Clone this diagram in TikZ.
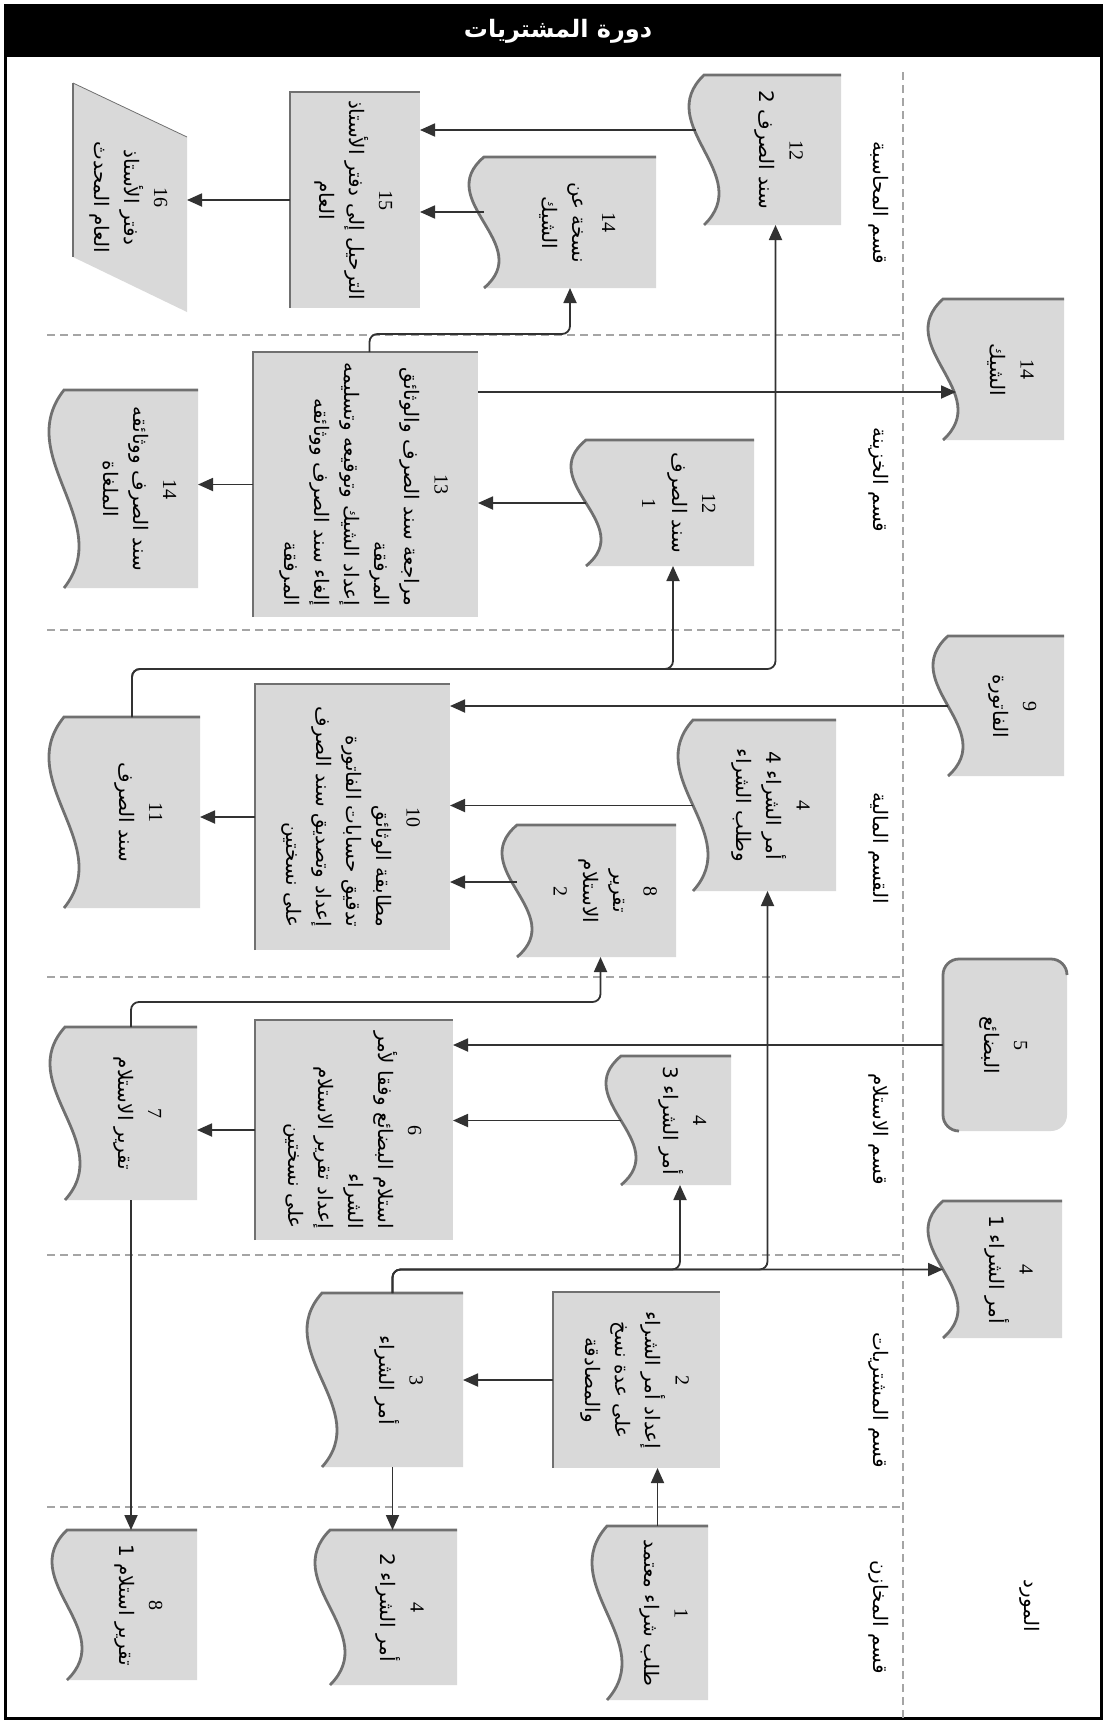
\documentclass[tikz,border=0pt]{standalone}
\usepackage{fontspec}
\usepackage{graphicx}
\usetikzlibrary{arrows.meta,calc,fit,backgrounds}
\setmainfont{Liberation Serif}
\newfontfamily\arabicfont[Script=Arabic]{DejaVu Sans}
\TeXXeTstate=1

\definecolor{boxgray}{RGB}{217,217,217}
\definecolor{edgegray}{RGB}{112,112,112}
\definecolor{linegray}{RGB}{50,50,50}
\definecolor{lanegray}{RGB}{165,165,165}

% Arabic text, numbers and rotated text blocks
\newcommand\artext[1]{{\arabicfont\beginR #1\endR}}
\newcommand\numtxt[1]{{\rmfamily #1}}
\newcommand\ctrcell[1]{\multicolumn{1}{@{}c@{}}{#1}}
\newcommand\rotc[1]{\rotatebox{-90}{\begin{tabular}{@{}c@{}}#1\end{tabular}}}
\newcommand\rotr[1]{\rotatebox{-90}{\begin{tabular}{@{}r@{}}#1\end{tabular}}}
\newcommand\rotdoc[1]{\rotatebox{-90}{\begin{tabular}{@{}c@{}}#1\\[8pt]\end{tabular}}}

% document symbol: flat top edge, wavy left edge
\newcommand\docshape[1]{%
  \fill[boxgray] (#1.north west)
    .. controls ($(#1.north west)!0.333!(#1.south west)+(-52,0)$)
       and ($(#1.north west)!0.667!(#1.south west)+(52,0)$) .. (#1.south west)
    -- (#1.south east) -- (#1.north east) -- cycle;
  \draw[edge] (#1.north east) -- (#1.north west)
    .. controls ($(#1.north west)!0.333!(#1.south west)+(-52,0)$)
       and ($(#1.north west)!0.667!(#1.south west)+(52,0)$) .. (#1.south west);}
% process symbol: shaded edges on top and left
\newcommand\procedge[1]{%
  \draw[edge] (#1.south west) -- (#1.north west) -- (#1.north east);}

\tikzset{
  shapebox/.style={inner sep=0pt, outer sep=0pt, font=\fontsize{10}{15}\selectfont},
  procbox/.style={shapebox, fill=boxgray},
  docbox/.style={shapebox},
  edge/.style={draw=edgegray, line width=1.4pt},
  conn/.style={draw=linegray, line width=0.9pt, rounded corners=4pt,
    -{Triangle[length=7.5pt,width=6.5pt]}},
  lane/.style={draw=lanegray, line width=0.7pt, dash pattern=on 4pt off 2.5pt},
  lanelabel/.style={inner sep=0pt, font=\fontsize{10}{12}\selectfont},
}

\begin{document}
\begin{tikzpicture}[x=0.5pt,y=-0.5pt]
\useasboundingbox (0,0) rectangle (1106,1724);

% frame and title bar
\fill[black] (5,5) rectangle (1101,57);
\draw[line width=1.5pt] (5,5) rectangle (1101,1718);
\node[text=white, font=\fontsize{12}{14}\selectfont\bfseries] (title) at (558,31)
  {\artext{دورة المشتريات}};

% swimlane separators
\draw[lane] (903,72) -- (903,1718);
\foreach \yy in {335,630,977,1255,1507}
  \draw[lane] (47,\yy) -- (903,\yy);

% lane titles
\node[lanelabel] (lacc) at (879,203) {\rotatebox{-90}{\artext{قسم المحاسبة}}};
\node[lanelabel] (ltre) at (879,480) {\rotatebox{-90}{\artext{قسم الخزينة}}};
\node[lanelabel] (lfin) at (879,848) {\rotatebox{-90}{\artext{القسم المالية}}};
\node[lanelabel] (lrec) at (879,1129) {\rotatebox{-90}{\artext{قسم الاستلام}}};
\node[lanelabel] (lpur) at (879,1400) {\rotatebox{-90}{\artext{قسم المشتريات}}};
\node[lanelabel] (lsto) at (879,1617) {\rotatebox{-90}{\artext{قسم المخازن}}};
\node[lanelabel] (lsup) at (1030,1606) {\rotatebox{-90}{\artext{المورد}}};

% stores
\node[docbox, fit={(607,1526)(708,1700)}] (d1) {\rotdoc{\numtxt{1}\\\artext{طلب شراء معتمد}}};
\node[docbox, fit={(330,1530)(457,1685)}] (d4b) {\rotdoc{\numtxt{4}\\\artext{أمر الشراء 2}}};
\node[docbox, fit={(67,1530)(197,1680)}] (d8a) {\rotdoc{\numtxt{8}\\\artext{تقرير استلام 1}}};

% purchasing
\node[procbox, fit={(553,1292)(720,1468)}] (p2) {\rotc{\numtxt{2}\\\artext{إعداد أمر الشراء}\\\artext{على عدة نسخ}\\\artext{والمصادقة}}};
\node[docbox, fit={(322,1293)(463,1467)}] (d3) {\rotdoc{\numtxt{3}\\\artext{أمر الشراء}}};
\node[docbox, fit={(943,1201)(1062,1338)}] (s4) {\rotdoc{\numtxt{4}\\\artext{أمر الشراء 1}}};

% receiving
\node[docbox, fit={(621,1056)(731,1185)}] (d4c) {\rotdoc{\numtxt{4}\\\artext{أمر الشراء 3}}};
\node[shapebox, fit={(943,959)(1067,1131)}] (s5) {\rotc{\numtxt{5}\\\artext{البضائع}}};
\node[procbox, fit={(255,1020)(453,1240)}] (p6) {\rotr{\ctrcell{\numtxt{6}}\\\artext{استلام البضائع وفقا لأمر}\\\artext{الشراء}\\\artext{إعداد تقرير الاستلام}\\\artext{على نسختين}}};
\node[docbox, fit={(65,1027)(197,1200)}] (d7) {\rotdoc{\numtxt{7}\\\artext{تقرير الاستلام}}};

% finance
\node[docbox, fit={(517,825)(676,957)}] (d8b) {\rotdoc{\numtxt{8}\\\artext{تقرير}\\\artext{الاستلام}\\\numtxt{2}}};
\node[docbox, fit={(693,720)(836,891)}] (d4d) {\rotdoc{\numtxt{4}\\\artext{أمر الشراء 4}\\\artext{وطلب الشراء}}};
\node[docbox, fit={(948,636)(1064,776)}] (s9) {\rotdoc{\numtxt{9}\\\artext{الفاتورة}}};
\node[procbox, fit={(255,684)(450,950)}] (p10) {\rotr{\ctrcell{\numtxt{10}}\\\artext{مطابقة الوثائق}\\\artext{تدقيق حسابات الفاتورة}\\\artext{إعداد وتصديق سند الصرف}\\\artext{على نسختين}}};
\node[docbox, fit={(64,717)(200,908)}] (d11) {\rotdoc{\numtxt{11}\\\artext{سند الصرف}}};

% treasury
\node[docbox, fit={(586,440)(754,566)}] (d12a) {\rotdoc{\numtxt{12}\\\artext{سند الصرف}\\\numtxt{1}}};
\node[procbox, fit={(253,352)(478,617)}] (p13) {\rotr{\ctrcell{\numtxt{13}}\\\artext{مراجعة سند الصرف والوثائق}\\\artext{المرفقة}\\\artext{إعداد الشيك وتوقيعه وتسليمه}\\\artext{إلغاء سند الصرف ووثائقه}\\\artext{المرفقة}}};
\node[docbox, fit={(64,390)(198,588)}] (d14a) {\rotdoc{\numtxt{14}\\\artext{سند الصرف ووثائقه}\\\artext{الملغاة}}};
\node[docbox, fit={(943,299)(1064,440)}] (s14) {\rotdoc{\numtxt{14}\\\artext{الشيك}}};

% accounting
\node[docbox, fit={(484,157)(656,288)}] (d14b) {\rotdoc{\numtxt{14}\\\artext{نسخة عن}\\\artext{الشيك}}};
\node[docbox, fit={(704,75)(841,225)}] (d12b) {\rotdoc{\numtxt{12}\\\artext{سند الصرف 2}}};
\node[procbox, fit={(290,92)(420,308)}] (p15) {\rotc{\numtxt{15}\\\artext{الترحيل إلى دفتر الأستاذ}\\\artext{العام}}};
\node[shapebox, fit={(73,83)(187,312)}] (m16) {\rotc{\numtxt{16}\\\artext{دفتر الأستاذ}\\\artext{العام المحدث}}};

% symbol outlines behind the texts
\begin{scope}[on background layer]
  \foreach \d in {d1,d4b,d8a,d3,s4,d4c,d7,d8b,d4d,s9,d11,d12a,d14a,s14,d14b,d12b}
    {\docshape{\d}}
  \fill[boxgray, rounded corners=8pt] (s5.north west) rectangle (s5.south east);
  \draw[edge, rounded corners=8pt] ($(s5.south west)+(16,0)$) -- (s5.south west)
    -- (s5.north west) -- (s5.north east) -- ($(s5.north east)+(0,16)$);
  \fill[boxgray] (m16.north west) -- ($(m16.north east)+(0,54)$) -- (m16.south east)
    -- ($(m16.south west)+(0,-55)$) -- cycle;
  \draw[edgegray, line width=0.4pt] (m16.north west) -- ($(m16.north east)+(0,54)$);
  \draw[edge] (m16.north west) -- ($(m16.south west)+(0,-55)$);
\end{scope}
\foreach \p in {p2,p6,p10,p13,p15} {\procedge{\p}}

% flow connectors
\draw[conn] (d1.north) -- (d1.north |- p2.south);
\draw[conn] (p2.west) -- (p2.west -| d3.east);
\draw[conn] (d3.south) -- (d3.south |- d4b.north);
\draw[conn] (d3.north) |- (s4.west);
\draw[conn] (d3.north) -- (d3.north |- s4.west) -| ($(d4c.south)+(4,0)$);
\draw[conn] (d3.north) -- (d3.north |- s4.west) -| ($(d4d.south)+(3,0)$);
\draw[conn] (d4c.west) -- (d4c.west -| p6.east);
\draw[conn] (s5.west) -- (s5.west -| p6.east);
\draw[conn] (p6.west) -- (p6.west -| d7.east);
\draw[conn] (d7.south) -- (d7.south |- d8a.north);
\draw[conn] (d7.north) -- ++(0,-25) -| ($(d8b.south)+(4,0)$);
\draw[conn] (d8b.west |- 0,882) -- (p10.east |- 0,882);
\draw[conn] (d4d.west) -- (d4d.west -| p10.east);
\draw[conn] (s9.west) -- (s9.west -| p10.east);
\draw[conn] (p10.west) -- (p10.west -| d11.east);
\draw[conn] (d11.north) -- ++(0,-48) -| ($(d12a.south)+(3,0)$);
\draw[conn] (d11.north) -- ++(0,-48) -| ($(d12b.south)+(3,0)$);
\draw[conn] (d12a.west) -- (d12a.west -| p13.east);
\draw[conn] (p13.west) -- (p13.west -| d14a.east);
\draw[conn] (p13.east |- 0,392) -- ($(s14.west |- 0,392)+(13,0)$);
\draw[conn] ($(p13.north)+(4,0)$) -- ++(0,-18) -| (d14b.south);
\draw[conn] ($(d12b.west |- 0,130)+(-8,0)$) -- (p15.east |- 0,130);
\draw[conn] (d14b.west |- 0,212) -- (p15.east |- 0,212);
\draw[conn] (p15.west) -- (p15.west -| m16.east);
\end{tikzpicture}
\end{document}
